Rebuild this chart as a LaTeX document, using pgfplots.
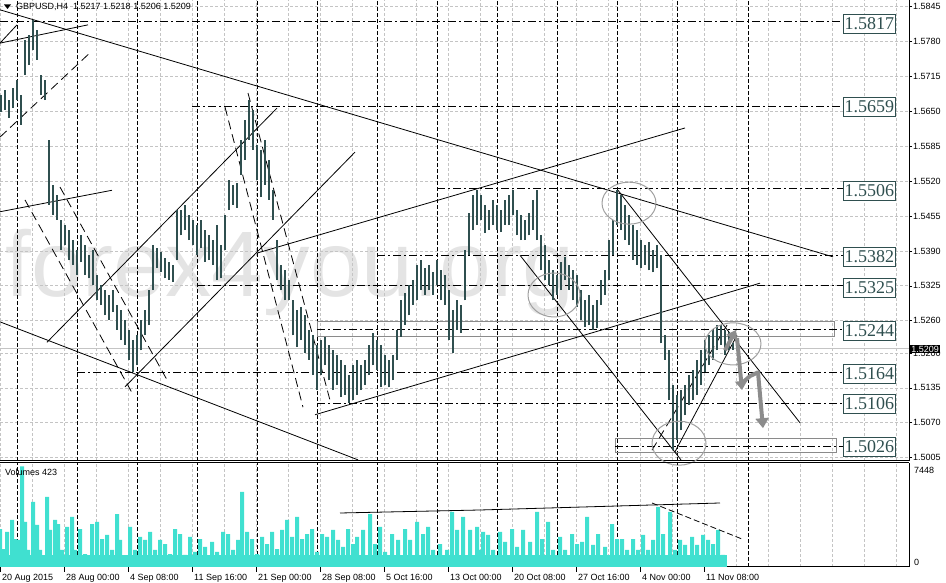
\documentclass[border=0pt]{standalone}
\usepackage{pgfplots}
\pgfplotsset{compat=1.18}
\usepackage{pgfplotstable}
\usepackage{fontspec}
\setmainfont{Liberation Sans}
\setsansfont{Liberation Sans}
\newfontfamily\serifnum{Liberation Serif}
\usetikzlibrary{arrows.meta}

\definecolor{slate}{HTML}{2F4F4F}
\definecolor{gridc}{HTML}{C4C4C4}
\definecolor{volc}{HTML}{40E0D0}
\definecolor{wm}{HTML}{E4E4E4}
\definecolor{ellc}{HTML}{A0A0A0}
\definecolor{arrc}{HTML}{8C8C8C}
\definecolor{boxc}{HTML}{8A8A8A}

\pgfplotstableread{
x lo hi
1 1.5649 1.5680
5 1.5653 1.5690
9 1.5638 1.5671
13 1.5656 1.5693
17 1.5671 1.5708
21 1.5625 1.5680
25 1.5718 1.5783
29 1.5736 1.5792
33 1.5764 1.5820
37 1.5746 1.5801
41 1.5680 1.5718
45 1.5671 1.5708
49 1.5476 1.5597
53 1.5457 1.5513
57 1.5448 1.5494
61 1.5392 1.5448
65 1.5401 1.5438
69 1.5373 1.5429
73 1.5364 1.5410
77 1.5345 1.5392
81 1.5369 1.5419
85 1.5345 1.5401
89 1.5339 1.5382
93 1.5326 1.5392
97 1.5298 1.5345
101 1.5289 1.5326
105 1.5270 1.5317
109 1.5261 1.5308
113 1.5276 1.5317
117 1.5243 1.5289
121 1.5224 1.5280
125 1.5215 1.5261
129 1.5187 1.5243
133 1.5164 1.5224
137 1.5177 1.5233
141 1.5205 1.5261
145 1.5233 1.5280
149 1.5252 1.5317
153 1.5317 1.5401
157 1.5358 1.5395
161 1.5350 1.5388
165 1.5339 1.5377
169 1.5336 1.5369
173 1.5332 1.5364
177 1.5373 1.5466
181 1.5419 1.5466
185 1.5429 1.5476
189 1.5410 1.5457
193 1.5401 1.5448
197 1.5382 1.5438
201 1.5395 1.5448
205 1.5369 1.5429
209 1.5373 1.5419
213 1.5364 1.5410
217 1.5336 1.5438
221 1.5339 1.5401
225 1.5392 1.5457
229 1.5466 1.5522
233 1.5476 1.5513
237 1.5470 1.5516
241 1.5531 1.5597
245 1.5559 1.5634
249 1.5597 1.5671
253 1.5578 1.5652
257 1.5522 1.5587
261 1.5490 1.5578
265 1.5513 1.5597
269 1.5485 1.5559
273 1.5448 1.5503
277 1.5336 1.5410
281 1.5317 1.5364
285 1.5298 1.5354
289 1.5298 1.5336
293 1.5233 1.5298
297 1.5211 1.5280
301 1.5224 1.5285
305 1.5200 1.5270
309 1.5187 1.5243
313 1.5159 1.5233
317 1.5131 1.5215
321 1.5159 1.5224
325 1.5177 1.5230
329 1.5149 1.5215
333 1.5131 1.5205
337 1.5140 1.5196
341 1.5118 1.5187
345 1.5122 1.5177
349 1.5107 1.5159
353 1.5112 1.5177
357 1.5122 1.5187
361 1.5131 1.5177
365 1.5140 1.5187
369 1.5159 1.5215
373 1.5177 1.5237
377 1.5168 1.5224
381 1.5136 1.5215
385 1.5140 1.5196
389 1.5136 1.5187
393 1.5149 1.5196
397 1.5187 1.5243
401 1.5230 1.5298
405 1.5252 1.5311
409 1.5270 1.5326
413 1.5289 1.5336
417 1.5298 1.5364
421 1.5317 1.5373
425 1.5308 1.5358
429 1.5317 1.5364
433 1.5308 1.5350
437 1.5326 1.5373
441 1.5298 1.5354
445 1.5289 1.5345
449 1.5224 1.5317
453 1.5200 1.5280
457 1.5243 1.5298
461 1.5237 1.5289
465 1.5298 1.5392
469 1.5382 1.5460
473 1.5429 1.5494
477 1.5438 1.5503
481 1.5448 1.5494
485 1.5423 1.5476
489 1.5429 1.5466
493 1.5438 1.5485
497 1.5429 1.5476
501 1.5425 1.5466
505 1.5438 1.5485
509 1.5438 1.5494
513 1.5457 1.5503
517 1.5419 1.5466
521 1.5410 1.5457
525 1.5410 1.5448
529 1.5419 1.5460
533 1.5429 1.5485
537 1.5410 1.5503
541 1.5354 1.5419
545 1.5336 1.5401
549 1.5326 1.5373
553 1.5298 1.5354
557 1.5308 1.5345
561 1.5317 1.5369
565 1.5336 1.5379
569 1.5317 1.5364
573 1.5298 1.5354
577 1.5285 1.5345
581 1.5261 1.5317
585 1.5248 1.5298
589 1.5252 1.5308
593 1.5243 1.5289
597 1.5246 1.5298
601 1.5289 1.5336
605 1.5308 1.5354
609 1.5336 1.5410
613 1.5382 1.5448
617 1.5438 1.5503
621 1.5429 1.5494
625 1.5410 1.5476
629 1.5401 1.5457
633 1.5373 1.5438
637 1.5364 1.5429
641 1.5358 1.5410
645 1.5364 1.5401
649 1.5354 1.5406
653 1.5350 1.5392
657 1.5358 1.5401
661 1.5218 1.5382
665 1.5187 1.5233
669 1.5112 1.5205
673 1.5019 1.5140
677 1.5038 1.5122
681 1.5056 1.5131
685 1.5084 1.5140
689 1.5103 1.5159
693 1.5112 1.5168
697 1.5122 1.5187
701 1.5140 1.5205
705 1.5164 1.5224
709 1.5177 1.5233
713 1.5187 1.5243
717 1.5205 1.5252
721 1.5215 1.5252
725 1.5196 1.5243
729 1.5205 1.5239
733 1.5206 1.5218
}\pricedata

\pgfplotstableread{
x v
0 2810
3 1330
7 2590
12 3480
15 2070
18 2000
22 7448
25 3330
28 1260
33 4810
37 3110
40 1260
47 5180
50 2740
55 3480
58 3180
62 1260
67 2960
72 3700
75 1260
80 2810
85 960
92 3180
97 3330
102 2070
107 2370
112 1260
117 3920
120 2000
125 740
130 2960
135 1260
140 2220
145 2000
150 2590
155 1260
160 2000
165 1700
170 960
175 2810
180 2440
185 890
190 2220
195 1110
200 2070
205 1480
212 1850
217 1110
223 2590
228 2440
233 1260
238 2000
242 5550
247 2590
252 2070
257 960
262 2220
267 1700
272 2590
277 1330
282 2740
287 3480
292 2220
297 3700
302 2070
307 2440
312 2810
317 1110
322 2440
327 2220
333 2740
338 2000
343 1480
348 2810
353 1700
357 2220
363 2740
370 3920
375 1700
380 2960
385 1110
392 2440
398 2000
405 2810
410 2000
417 3330
423 2440
428 2960
433 1260
440 1700
447 1260
452 4070
457 2740
463 3700
470 2740
477 2960
480 1260
483 2590
488 2370
493 1260
500 2590
505 1850
512 2810
517 1480
523 2740
530 1850
537 4070
542 2070
548 3330
553 1260
560 2220
565 1260
572 2440
577 1700
582 1850
587 3700
593 1630
598 2440
605 1480
612 3180
617 2070
622 2070
627 1260
633 2070
638 1260
643 2370
648 1260
653 2000
658 4440
663 2440
670 4070
675 1260
680 2000
685 1630
692 2220
697 1630
703 2370
708 2000
713 1700
718 2740
723 890
}\voldata

\tikzset{
  tl/.style={black, line width=0.8pt},
  tld/.style={black, line width=0.8pt, dash pattern=on 9pt off 5pt},
  lvl/.style={black, line width=0.9pt, dash pattern=on 8pt off 3pt on 2pt off 3pt},
  sep/.style={black, line width=0.9pt, dash pattern=on 4pt off 2pt},
  lvlbox/.style={draw=slate, fill=white, text=slate, line width=0.9pt, anchor=west,
     minimum width=52pt, minimum height=19pt, inner sep=1pt,
     font=\serifnum\fontsize{18}{18}\selectfont},
}

\begin{document}
\begin{tikzpicture}[x=1pt,y=1pt]
\useasboundingbox (0,0) rectangle (946,583);
% watermark
\node[anchor=base west, text=wm, inner sep=0pt, font=\fontsize{93}{93}\selectfont] at (5,286) {forex4you.org};

% ---------- price panel ----------
\begin{axis}[
  at={(0pt,122pt)}, anchor=south west,
  width=909pt, height=461pt, scale only axis,
  xmin=0, xmax=909, ymin=1.49989, ymax=1.58573,
  axis x line*=bottom, axis y line*=right,
  axis line style={black, line width=1pt},
  xtick={0,32,...,896}, xticklabels={}, xtick style={draw=none},
  ytick={1.5005,1.5070,1.5135,1.5200,1.5260,1.5325,1.5390,1.5455,1.5520,1.5585,1.5650,1.5715,1.5780,1.5845},
  /pgf/number format/assume math mode=true,
  yticklabel style={/pgf/number format/.cd, fixed, fixed zerofill, precision=4, /tikz/.cd,
     font=\fontsize{9}{9}\selectfont, anchor=west, inner sep=1pt},
  ytick style={black, line width=0.7pt},
  tick align=outside, major tick length=3pt,
  grid=major, major grid style={gridc, line width=0.8pt, dash pattern=on 3pt off 2pt},
  clip=false,
]
\pgfplotsinvokeforeach{17,77,137,197,257,317,377,437,497,557,617,677,748}{
  \draw[sep] (axis cs:#1,1.49989) -- (axis cs:#1,1.58573);
}
% current price line
\draw[gridc, line width=0.9pt] (axis cs:0,1.5209) -- (axis cs:909,1.5209);
% level boxes
\draw[boxc, line width=1pt] (axis cs:317,1.5230) rectangle (axis cs:834,1.5258);
\draw[boxc, line width=1pt] (axis cs:615,1.5014) rectangle (axis cs:836,1.5040);
% level lines
\draw[lvl] (axis cs:0,1.5817) -- (axis cs:843,1.5817);
\draw[lvl] (axis cs:192,1.5659) -- (axis cs:843,1.5659);
\draw[lvl] (axis cs:437,1.5506) -- (axis cs:843,1.5506);
\draw[lvl] (axis cs:377,1.5382) -- (axis cs:843,1.5382);
\draw[lvl] (axis cs:197,1.5325) -- (axis cs:843,1.5325);
\draw[lvl] (axis cs:317,1.5244) -- (axis cs:843,1.5244);
\draw[lvl] (axis cs:77,1.5164) -- (axis cs:843,1.5164);
\draw[lvl] (axis cs:317,1.5106) -- (axis cs:843,1.5106);
\draw[lvl] (axis cs:615,1.5026) -- (axis cs:843,1.5026);
% trend lines
\addplot[tl] coordinates {(0,1.5839) (833,1.5379)};
\addplot[tl] coordinates {(0,1.5777) (88,1.5811)};
\addplot[tl] coordinates {(0,1.5777) (17,1.5811)};
\addplot[tld] coordinates {(0,1.5602) (90,1.5759)};
\addplot[tl] coordinates {(0,1.5463) (112,1.5503)};
\addplot[tl] coordinates {(0,1.5258) (358,1.5001)};
\addplot[tld] coordinates {(25,1.5485) (132,1.5126)};
\addplot[tld] coordinates {(60,1.5509) (167,1.5150)};
\addplot[tl] coordinates {(47,1.5220) (277,1.5656)};
\addplot[tl] coordinates {(125,1.5137) (355,1.5574)};
\addplot[tld] coordinates {(225,1.5658) (303,1.5099)};
\addplot[tld] coordinates {(248,1.5684) (330,1.5112)};
\addplot[tl] coordinates {(257,1.5386) (685,1.5619)};
\addplot[tl] coordinates {(315,1.5085) (760,1.5330)};
\addplot[tl] coordinates {(618,1.5503) (800,1.5070)};
\addplot[tl] coordinates {(520,1.5382) (681,1.5001)};
\addplot[tl] coordinates {(675,1.5016) (737,1.5233)};
\addplot[tld] coordinates {(652,1.5019) (727,1.5252)};
% price bars
\addplot[draw=none, mark=none, error bars/.cd, y dir=plus, y explicit, error mark=none,
   error bar style={draw=slate, line width=1.3pt}]
   table[x=x, y=lo, y error expr=\thisrow{hi}-\thisrow{lo}] {\pricedata};
% ellipses
\draw[ellc, line width=1pt] (axis cs:629,1.5479) ellipse [x radius=27pt, y radius=21pt];
\draw[ellc, line width=1pt] (axis cs:554,1.5308) ellipse [x radius=26pt, y radius=22pt];
\draw[ellc, line width=1pt] (axis cs:733,1.5217) ellipse [x radius=28pt, y radius=21pt];
\draw[ellc, line width=1pt] (axis cs:679,1.5032) ellipse [x radius=27pt, y radius=22pt];
% projected path
\draw[arrc, line width=4pt, -{Triangle[length=9pt,width=12pt]}] (axis cs:725,1.5205) -- (axis cs:736,1.5243);
\draw[arrc, line width=4pt, -{Triangle[length=9pt,width=12pt]}] (axis cs:737,1.5228) -- (axis cs:742,1.5131);
\draw[arrc, line width=4pt, line join=round, -{Triangle[length=10pt,width=13pt]}] (axis cs:742,1.5144) -- (axis cs:750,1.5157) -- (axis cs:758,1.5164) -- (axis cs:763,1.5060);
\end{axis}

% ---------- volume panel ----------
\begin{axis}[
  at={(0pt,16pt)}, anchor=south west,
  width=909pt, height=104pt, scale only axis,
  xmin=0, xmax=909, ymin=0, ymax=7696,
  axis x line*=bottom, axis y line*=right,
  axis line style={black, line width=1pt},
  xtick={0,64,...,704},
  xticklabels={20 Aug 2015,28 Aug 00:00,4 Sep 08:00,11 Sep 16:00,21 Sep 00:00,28 Sep 08:00,5 Oct 16:00,13 Oct 00:00,20 Oct 08:00,27 Oct 16:00,4 Nov 00:00,11 Nov 08:00},
  xticklabel style={font=\fontsize{9}{10}\selectfont, anchor=north west, inner sep=1pt, xshift=1pt, yshift=-1pt},
  minor xtick={32,96,...,864,768,832,896},
  xtick style={black, line width=0.7pt}, minor tick length=0pt,
  tick align=outside, major tick length=5pt,
  ytick=\empty,
  xmajorgrids, xminorgrids,
  major grid style={gridc, line width=0.8pt, dash pattern=on 3pt off 2pt},
  minor grid style={gridc, line width=0.8pt, dash pattern=on 3pt off 2pt},
  clip=false,
]
\pgfplotsinvokeforeach{17,77,137,197,257,317,377,437,497,557,617,677,748}{
  \draw[sep] (axis cs:#1,0) -- (axis cs:#1,7696);
}
\draw[black, line width=1pt] (rel axis cs:0,1) -- (rel axis cs:1,1);
\addplot[fill=volc, draw=none] coordinates {(0,880) (727,880)} \closedcycle;
\addplot[ybar, bar width=4pt, fill=volc, draw=none] table[x=x, y=v] {\voldata};
\addplot[tl] coordinates {(340,3996) (480,4218) (720,4736)};
\addplot[tld, dash pattern=on 6pt off 3pt] coordinates {(652,4736) (742,2072)};
\end{axis}

% ---------- texts ----------
\fill[black] (4,578.5) -- (11,578.5) -- (7.5,574) -- cycle;
\node[anchor=west, inner sep=0pt, font=\fontsize{9}{10}\selectfont] at (16,576) {GBPUSD,H4\ \ 1.5217 1.5218 1.5206 1.5209};
\node[anchor=west, inner sep=0pt, font=\fontsize{9}{10}\selectfont] at (5,111) {Volumes 423};
\node[anchor=west, inner sep=0pt, font=\fontsize{9}{9}\selectfont] at (914,113) {7448};
\node[anchor=west, inner sep=0pt, font=\fontsize{9}{9}\selectfont] at (914,21) {0};
\node[anchor=west, fill=black, text=white, inner sep=1.2pt, font=\fontsize{9}{9}\selectfont] at (910,234) {1.5209};
% level labels
\node[lvlbox] at (843,559.5) {1.5817};
\node[lvlbox] at (843,476) {1.5659};
\node[lvlbox] at (843,392) {1.5506};
\node[lvlbox] at (843,326) {1.5382};
\node[lvlbox] at (843,295.5) {1.5325};
\node[lvlbox] at (843,252.5) {1.5244};
\node[lvlbox] at (843,209.5) {1.5164};
\node[lvlbox] at (843,179.5) {1.5106};
\node[lvlbox] at (843,136.5) {1.5026};
\end{tikzpicture}
\end{document}
